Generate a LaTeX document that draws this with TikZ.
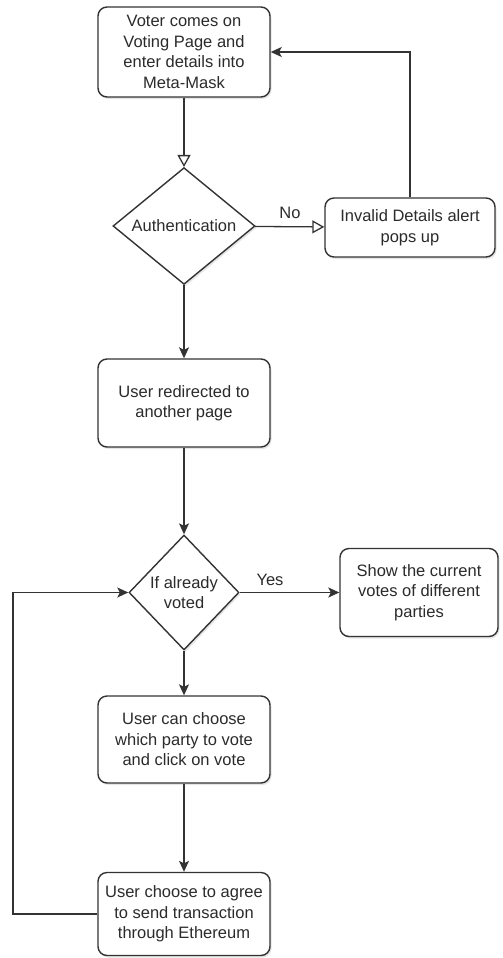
\documentclass[tikz,border=0pt]{standalone}
\usepackage{fontspec}
\setmainfont{Liberation Sans}
\usetikzlibrary{arrows.meta,shapes.geometric,shadows}
\definecolor{linec}{HTML}{333333}
\definecolor{textc}{HTML}{2B2B2B}
\begin{document}
\begin{tikzpicture}[x=1pt,y=-1pt,
  txt/.style={text=textc, font=\fontsize{16.5}{20.5}\selectfont},
  box/.style={txt, draw=linec, line width=1.4pt, rounded corners=9pt, fill=white,
    align=center, inner sep=0pt,
    drop shadow={opacity=0.2, shadow xshift=1.5pt, shadow yshift=-2pt}},
  dia/.style={txt, draw=linec, line width=1.4pt, shape=diamond, fill=white,
    align=center, inner sep=0pt,
    drop shadow={opacity=0.2, shadow xshift=1.5pt, shadow yshift=-2pt}},
  arr/.style={draw=linec, line width=1.3pt, -{Stealth[length=11pt,width=10pt,inset=2.5pt]}},
  openarr/.style={draw=linec, line width=1.3pt, -{Triangle[open,length=12pt,width=13pt]}},
  lbl/.style={txt, inner sep=0pt}]
\useasboundingbox (0,0) rectangle (503,958);
\fill[white] (0,0) rectangle (503,958);

\node[box, minimum width=172pt, minimum height=90pt] (b1) at (184,52)
  {Voter comes on\\Voting Page and\\enter details into\\Meta-Mask};
\node[dia, minimum width=142pt, minimum height=116pt] (auth) at (184,226) {Authentication};
\node[box, minimum width=170pt, minimum height=59pt] (inv) at (410,227.5)
  {Invalid Details alert\\pops up};
\node[box, minimum width=172pt, minimum height=88pt] (b2) at (184,403)
  {User redirected to\\another page};
\node[dia, minimum width=110pt, minimum height=115pt] (d2) at (184,592.5)
  {If already\\voted};
\node[box, minimum width=158pt, minimum height=88pt] (show) at (419,592.5)
  {Show the current\\votes of different\\parties};
\node[box, minimum width=172pt, minimum height=87pt] (b3) at (184,739.5)
  {User can choose\\which party to vote\\and click on vote};
\node[box, minimum width=172pt, minimum height=83pt] (b4) at (184,914)
  {User choose to agree\\to send transaction\\through Ethereum};

\node[lbl] (no) at (290,213) {No};
\node[lbl] (yes) at (270,580) {Yes};
\coordinate (loop) at (13,914);

\draw[openarr] (b1) -- (auth);
\draw[openarr] (auth) -- (inv);
\draw[arr] (inv.north) |- (b1.east);
\draw[arr] (auth) -- (b2);
\draw[arr] (b2) -- (d2);
\draw[arr] (d2) -- (show);
\draw[arr] (d2) -- (b3);
\draw[arr] (b3) -- (b4);
\draw[arr] (b4.west) -- (loop) |- (d2.west);
\end{tikzpicture}
\end{document}
